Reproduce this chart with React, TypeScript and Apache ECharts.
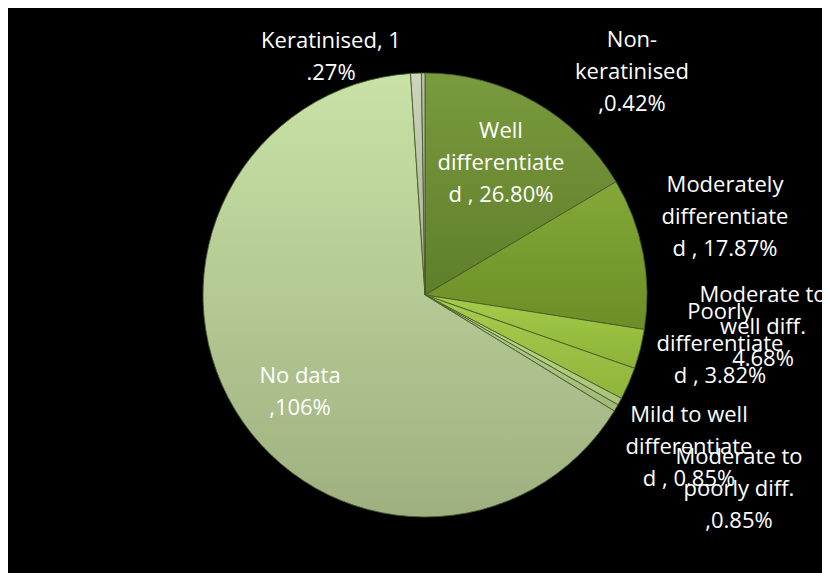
import React, { useEffect, useRef } from "react";
import * as echarts from "echarts";

// Slice order: clockwise from 12 o'clock
const categories = [
  "Well differentiated",
  "Moderately differentiated",
  "Moderate to well diff.",
  "Poorly differentiated",
  "Mild to well differentiated",
  "Moderate to poorly diff.",
  "No data",
  "Keratinised",
  "Non-keratinised",
];
const values = [26.8, 17.87, 4.68, 3.82, 0.85, 0.85, 106, 1.27, 0.42];
const labelTexts = [
  "Well\ndifferentiate\nd , 26.80%",
  "Moderately\ndifferentiate\nd , 17.87%",
  "Moderate to\nwell diff.\n4.68%",
  "Poorly\ndifferentiate\nd , 3.82%",
  "Mild to well\ndifferentiate\nd , 0.85%",
  "Moderate to\npoorly diff.\n,0.85%",
  "No data\n,106%",
  "Keratinised, 1\n.27%",
  "Non-\nkeratinised\n,0.42%",
];
// label block centres (chart coordinates)
const labelCenters: [number, number][] = [
  [493, 153],
  [717, 207],
  [755, 317],
  [712, 334],
  [681, 437],
  [731, 479],
  [292, 382],
  [323, 47],
  [624, 62],
];
const topColors = ["#7a9a3e", "#84a838", "#a6cc4c", "#a9cd50", "#c0dc8c", "#bcd48a", "#c9e2a6", "#cdd5bd", "#b9c2a8"];
const bottomColors = ["#5f7e2a", "#6c8e26", "#8cb236", "#8fb43a", "#a8c478", "#a2b87c", "#9fb080", "#a4ae92", "#9aa48a"];

export default function App() {
  const ref = useRef<HTMLDivElement>(null);
  useEffect(() => {
    if (!ref.current) return;
    document.documentElement.style.overflow = "hidden";
    document.body.style.overflow = "hidden";
    const chart = echarts.init(ref.current, undefined, { renderer: "svg" });
    chart.setOption({
      animation: false,
      backgroundColor: "#000000",
      series: [
        {
          type: "pie",
          center: [417, 287],
          radius: [0, 222],
          startAngle: 90,
          clockwise: true,
          avoidLabelOverlap: false,
          data: categories.map((name, i) => ({
            name,
            value: values[i],
            itemStyle: {
              color: new echarts.graphic.LinearGradient(0, 0, 0, 1, [
                { offset: 0, color: topColors[i] },
                { offset: 1, color: bottomColors[i] },
              ]),
            },
          })),
          itemStyle: {
            borderColor: "rgba(70,90,40,0.85)",
            borderWidth: 1,
          },
          label: {
            show: true,
            position: "outside",
            formatter: (p: any) => labelTexts[p.dataIndex],
            color: "#ffffff",
            fontFamily: "Open Sans",
            fontSize: 22,
            lineHeight: 32,
            align: "center",
          },
          labelLine: { show: false },
          labelLayout: (p: any) => ({
            x: labelCenters[p.dataIndex][0],
            y: labelCenters[p.dataIndex][1],
            align: "center",
            verticalAlign: "middle",
          }),
          emphasis: { disabled: true },
        },
      ],
    });
    return () => chart.dispose();
  }, []);
  return <div ref={ref} style={{ width: 822, height: 565 }} />;
}
